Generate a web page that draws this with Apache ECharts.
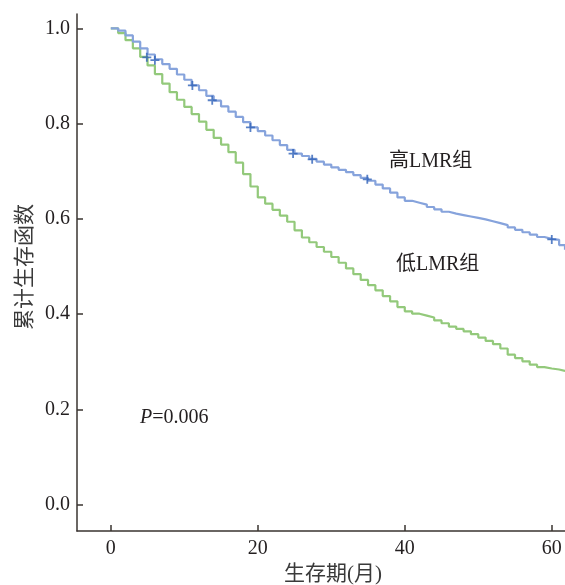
<!DOCTYPE html>
<html>
<head>
<meta charset="utf-8">
<script src="https://cdn.jsdelivr.net/npm/echarts@6/dist/echarts.min.js"></script>
<style>html,body{margin:0;padding:0;background:#fff}#c{width:565px;height:585px}</style>
</head>
<body>
<div id="c"></div>
<script>
// ---- data ----
var highTimes = [0,1,2,3,4,5,6,7,8,9,10,11,12,13,14,15,16,17,18,19,20,21,22,23,24,25,26,27,28,29,30,31,32,33,34,35,36,37,38,39,40,41,42,43,44,45,46,47,48,49,50,51,52,53,54,55,56,57,58,59,60,61,61.8];
var highSurv  = [1.0,0.995,0.985,0.972,0.958,0.945,0.935,0.925,0.915,0.903,0.892,0.880,0.870,0.858,0.848,0.836,0.825,0.814,0.803,0.792,0.784,0.775,0.765,0.755,0.745,0.737,0.732,0.726,0.720,0.714,0.708,0.703,0.698,0.692,0.686,0.680,0.672,0.664,0.655,0.645,0.638,0.634,0.630,0.625,0.620,0.615,0.611,0.608,0.605,0.602,0.599,0.595,0.591,0.587,0.582,0.577,0.572,0.567,0.562,0.558,0.556,0.545,0.535];
var highCensorTimes = [4.9,6.0,11.1,13.8,19.0,24.8,27.4,34.9,60.0];
var highCensorSurv  = [0.939,0.933,0.880,0.849,0.792,0.737,0.725,0.683,0.557];

var lowTimes = [0,1,2,3,4,5,6,7,8,9,10,11,12,13,14,15,16,17,18,19,20,21,22,23,24,25,26,27,28,29,30,31,32,33,34,35,36,37,38,39,40,41,42,43,44,45,46,47,48,49,50,51,52,53,54,55,56,57,58,59,60,61,61.8];
var lowSurv  = [1.0,0.99,0.975,0.958,0.94,0.922,0.904,0.884,0.866,0.85,0.835,0.82,0.804,0.787,0.77,0.756,0.74,0.718,0.694,0.668,0.645,0.632,0.619,0.607,0.594,0.576,0.561,0.551,0.541,0.531,0.52,0.508,0.496,0.484,0.472,0.461,0.45,0.438,0.427,0.415,0.406,0.401,0.397,0.393,0.387,0.381,0.374,0.369,0.364,0.358,0.351,0.344,0.337,0.328,0.315,0.308,0.301,0.294,0.289,0.286,0.284,0.281,0.279];

var xTicks = [0,20,40,60];
var yTicks = [0,0.2,0.4,0.6,0.8,1.0];
var xName = '生存期(月)';
var yName = '累计生存函数';
var highLabel = '高LMR组';
var lowLabel = '低LMR组';
var pText = '=0.006';

function zip(a,b){return a.map(function(v,i){return [v,b[i]];});}

var serif = "'Liberation Serif','Noto Serif CJK SC','Noto Sans CJK SC',serif";
var cjk = "'Liberation Serif','Noto Sans CJK SC',serif";
var axisColor = '#3a3431';
var textColor = '#231f20';
var plus = 'path://M4,0 L6,0 L6,4 L10,4 L10,6 L6,6 L6,10 L4,10 L4,6 L0,6 L0,4 L4,4 Z';

var chart = echarts.init(document.getElementById('c'), null, {renderer:'canvas'});
chart.setOption({
  animation:false,
  backgroundColor:'#fff',
  grid:{left:77,right:0,top:14,bottom:54},
  xAxis:{
    type:'value', min:-4.6, max:61.8,
    axisLine:{show:true,onZero:false,lineStyle:{color:axisColor,width:1.5}},
    axisTick:{show:true,inside:true,length:6,customValues:xTicks,lineStyle:{color:axisColor,width:1.5}},
    axisLabel:{customValues:xTicks,color:textColor,fontFamily:serif,fontSize:20,margin:8},
    splitLine:{show:false}
  },
  yAxis:{
    type:'value', min:-0.055, max:1.03,
    axisLine:{show:true,onZero:false,lineStyle:{color:axisColor,width:1.5}},
    axisTick:{show:true,inside:true,length:6,customValues:yTicks,lineStyle:{color:axisColor,width:1.5}},
    axisLabel:{customValues:yTicks,color:textColor,fontFamily:serif,fontSize:20,margin:7,
      formatter:function(v){return (+v).toFixed(1);}},
    splitLine:{show:false}
  },
  series:[
    {type:'line',step:'end',showSymbol:false,data:zip(lowTimes,lowSurv),
     lineStyle:{color:'#93c97b',width:2.2},z:2},
    {type:'line',step:'end',showSymbol:false,data:zip(highTimes,highSurv),
     lineStyle:{color:'#86a3dc',width:2.2},z:3},
    {type:'scatter',symbol:plus,symbolSize:9,data:zip(highCensorTimes,highCensorSurv),
     itemStyle:{color:'#2f62b8'},z:4}
  ],
  graphic:[
    {type:'text',x:333,y:574,style:{text:xName,font:'21px '+cjk,fill:'#3a3a3a',align:'center',verticalAlign:'middle'}},
    {type:'text',x:25,y:267,rotation:Math.PI/2,style:{text:yName,font:'21px '+cjk,fill:'#3a3a3a',align:'center',verticalAlign:'middle'}},
    {type:'text',x:389,y:162,style:{text:highLabel,font:'20px '+cjk,fill:textColor,align:'left',verticalAlign:'middle'}},
    {type:'text',x:396,y:265,style:{text:lowLabel,font:'20px '+cjk,fill:textColor,align:'left',verticalAlign:'middle'}},
    {type:'text',x:140,y:418,style:{text:'{i|P}{n|'+pText+'}',align:'left',verticalAlign:'middle',
      rich:{i:{font:'italic 20px '+serif,fill:textColor},n:{font:'20px '+serif,fill:textColor}}}}
  ]
});
</script>
</body>
</html>
